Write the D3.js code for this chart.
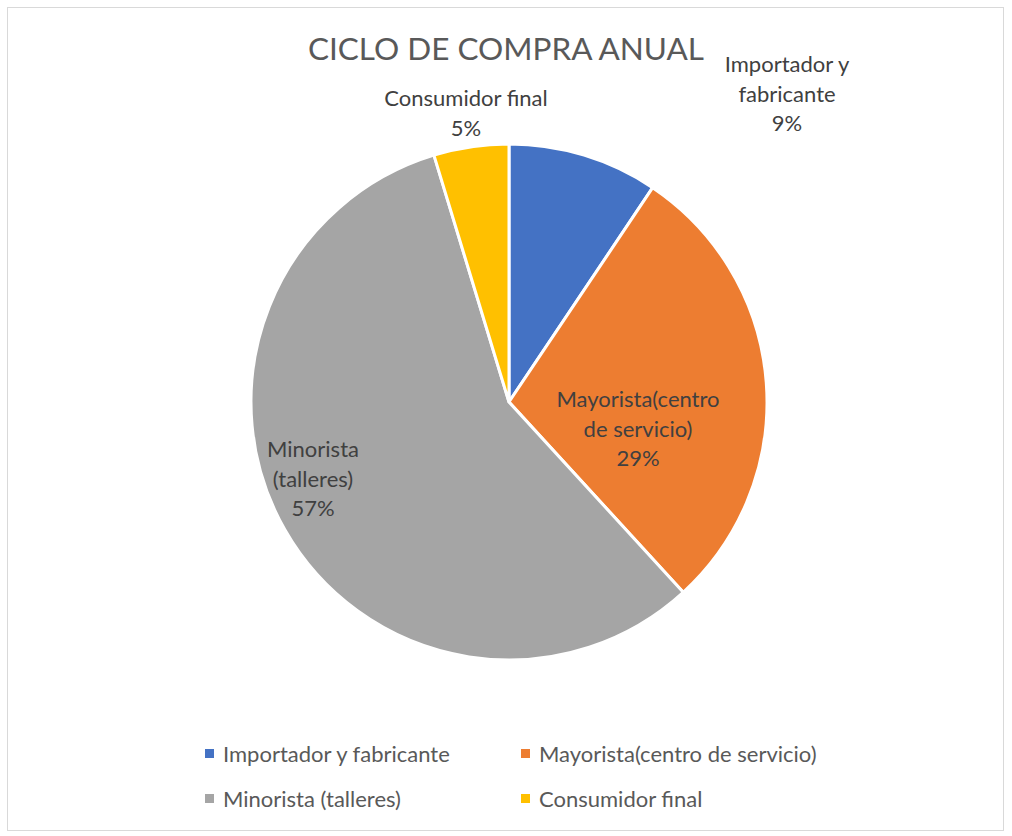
<!DOCTYPE html>
<html>
<head>
<meta charset="utf-8">
<script src="https://cdn.jsdelivr.net/npm/d3@7"></script>
<style>
  body { margin: 0; background: #fff; }
  svg { display: block; font-family: Lato, "Open Sans", sans-serif; }
</style>
</head>
<body>
<svg id="chart" width="1012" height="836"></svg>
<script>
// data
var categories = ["Importador y fabricante", "Mayorista(centro de servicio)", "Minorista (talleres)", "Consumidor final"];
var values = [9.4, 28.8, 57.1, 4.7];
var colors = ["#4472c4", "#ed7d31", "#a5a5a5", "#ffc000"];
var labelLines = [["Importador y", "fabricante"], ["Mayorista(centro", "de servicio)"], ["Minorista", "(talleres)"], ["Consumidor final"]];

var svg = d3.select("#chart"),
  cx = 509, cy = 402, radius = 258;

// border
svg.append("rect")
  .attr("x", 7.5).attr("y", 7.5)
  .attr("width", 996).attr("height", 823)
  .attr("fill", "#fff")
  .attr("stroke", "#d9d9d9");

svg.append("text")
  .attr("x", 506).attr("y", 60)
  .attr("text-anchor", "middle")
  .attr("font-size", 31.5)
  .attr("fill", "#595959")
  .text("CICLO DE COMPRA ANUAL");

var total = d3.sum(values);
var pie = d3.pie().sort(null).value(function (d) { return d; });
var arc = d3.arc().innerRadius(0).outerRadius(radius);
var arcs = pie(values);

var g = svg.append("g").attr("transform", "translate(" + cx + "," + cy + ")");

g.selectAll("path")
  .data(arcs)
  .enter().append("path")
  .attr("d", arc)
  .attr("fill", function (d, i) { return colors[i]; })
  .attr("stroke", "#fff")
  .attr("stroke-width", 3)
  .attr("stroke-linejoin", "round");

// label anchors (best-fit spots like Excel), relative to the pie centre
var labelSpots = [[278, -330], [129, 5], [-196, 55], [-43, -296]];
var lineH = 29.5;

arcs.forEach(function (d, i) {
  var lines = labelLines[i].concat([Math.round(values[i] / total * 100) + "%"]);
  var t = g.append("text")
    .attr("text-anchor", "middle")
    .attr("font-size", 22)
    .attr("fill", "#404040");
  lines.forEach(function (s, j) {
    t.append("tspan")
      .attr("x", labelSpots[i][0])
      .attr("y", labelSpots[i][1] + j * lineH)
      .text(s);
  });
});

// legend
var legendX = [205, 521], legendY = [754, 799];
var leg = svg.selectAll("g.leg")
  .data(categories)
  .enter().append("g")
  .attr("class", "leg")
  .attr("transform", function (d, i) {
    return "translate(" + legendX[i % 2] + "," + legendY[Math.floor(i / 2)] + ")";
  });
leg.append("rect")
  .attr("x", 0).attr("y", -5)
  .attr("width", 9).attr("height", 9)
  .attr("fill", function (d, i) { return colors[i]; });
leg.append("text")
  .attr("x", 18).attr("y", 8)
  .attr("font-size", 22)
  .attr("fill", "#595959")
  .text(function (d) { return d; });
</script>
</body>
</html>
